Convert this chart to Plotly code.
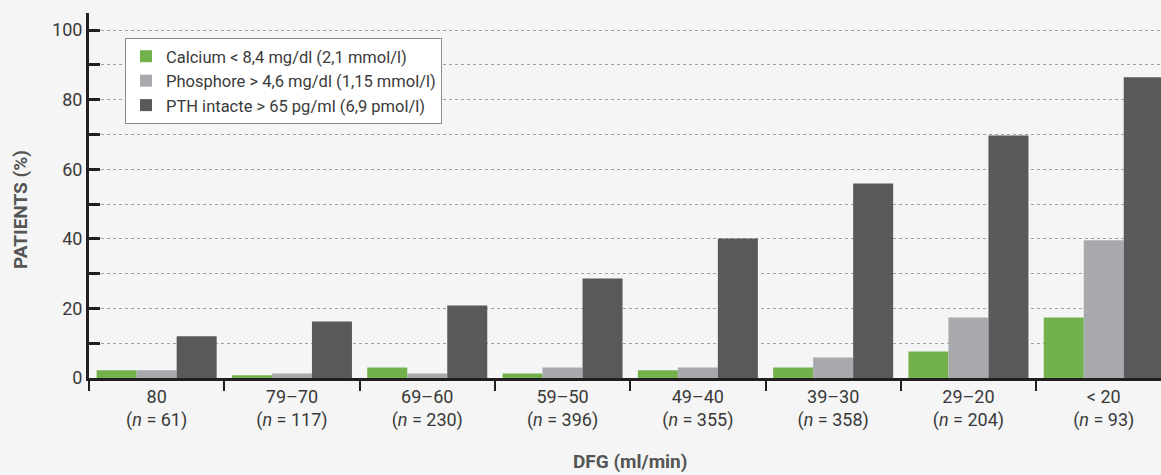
import plotly.graph_objects as go

categories = ["80", "79–70", "69–60", "59–50", "49–40", "39–30", "29–20", "< 20"]
n_values = [61, 117, 230, 396, 355, 358, 204, 93]
calcium = [2.2, 0.8, 3.0, 1.3, 2.2, 3.0, 7.6, 17.4]
phosphore = [2.2, 1.3, 1.3, 3.0, 3.0, 5.9, 17.4, 39.6]
pth = [12.0, 16.2, 20.8, 28.6, 40.1, 55.9, 69.7, 86.4]
series_names = [
    "Calcium < 8,4 mg/dl (2,1 mmol/l)",
    "Phosphore > 4,6 mg/dl (1,15 mmol/l)",
    "PTH intacte > 65 pg/ml (6,9 pmol/l)",
]
colors = ["#72b14b", "#a8a9ac", "#58595b"]
y_ticks = [0, 10, 20, 30, 40, 50, 60, 70, 80, 90, 100]

FONT = "Roboto"
TXT = "#3a3a3a"
BG = "#f4f5f4"
AX = "#231f20"

xlabels = [f"{c}<br>(<i>n</i> = {n})" for c, n in zip(categories, n_values)]

fig = go.Figure()
for name, vals, col in zip(series_names, [calcium, phosphore, pth], colors):
    fig.add_trace(go.Bar(
        x=xlabels, y=vals, name=name,
        marker=dict(color=col, line=dict(width=0)),
    ))

fig.update_layout(
    width=1161, height=475,
    margin=dict(l=89, r=0, t=13, b=97),
    paper_bgcolor=BG, plot_bgcolor=BG,
    barmode="group", bargap=0.113, bargroupgap=0,
    font=dict(family=FONT, color=TXT, size=18),
    showlegend=True,
    legend=dict(
        x=(125 - 89) / 1072, y=(378 - 38) / 365,
        xanchor="left", yanchor="top",
        bgcolor="#ffffff", bordercolor="#8a8a8a", borderwidth=1,
        font=dict(family=FONT, size=16.5, color=TXT),
        tracegroupgap=0, itemsizing="constant",
    ),
    xaxis=dict(
        type="category",
        range=[-0.5, -0.5 + 1072 / 135.3],
        showline=True, linecolor=AX, linewidth=3,
        ticks="outside", tickson="boundaries", ticklen=10, tickwidth=2, tickcolor=AX,
        showgrid=False, zeroline=False,
        tickfont=dict(family=FONT, size=18, color=TXT),
    ),
    yaxis=dict(
        range=[0, 365 / 3.48],
        tickvals=y_ticks,
        ticktext=[str(v) if v % 20 == 0 else "" for v in y_ticks],
        showline=True, linecolor=AX, linewidth=3,
        ticks="inside", ticklen=11, tickwidth=3, tickcolor=AX,
        showgrid=True, gridcolor="#a0a0a0", gridwidth=1, griddash="dot",
        zeroline=False,
        tickfont=dict(family=FONT, size=18, color=TXT),
    ),
    annotations=[
        dict(text="<b>PATIENTS (%)</b>", textangle=-90,
             xref="paper", yref="paper",
             x=(20 - 89) / 1072, y=(378 - 210) / 365,
             xanchor="center", yanchor="middle", showarrow=False,
             font=dict(family=FONT, size=19, color="#555555")),
        dict(text="<b>DFG (ml/min)</b>",
             xref="x", yref="paper",
             x=3.5, y=(378 - 461) / 365,
             xanchor="center", yanchor="middle", showarrow=False,
             font=dict(family=FONT, size=19, color="#555555")),
    ],
)

fig.write_html(
    "out.html",
    config={"displayModeBar": False},
    post_script="document.body.style.margin='0';document.body.style.overflow='hidden';",
)
